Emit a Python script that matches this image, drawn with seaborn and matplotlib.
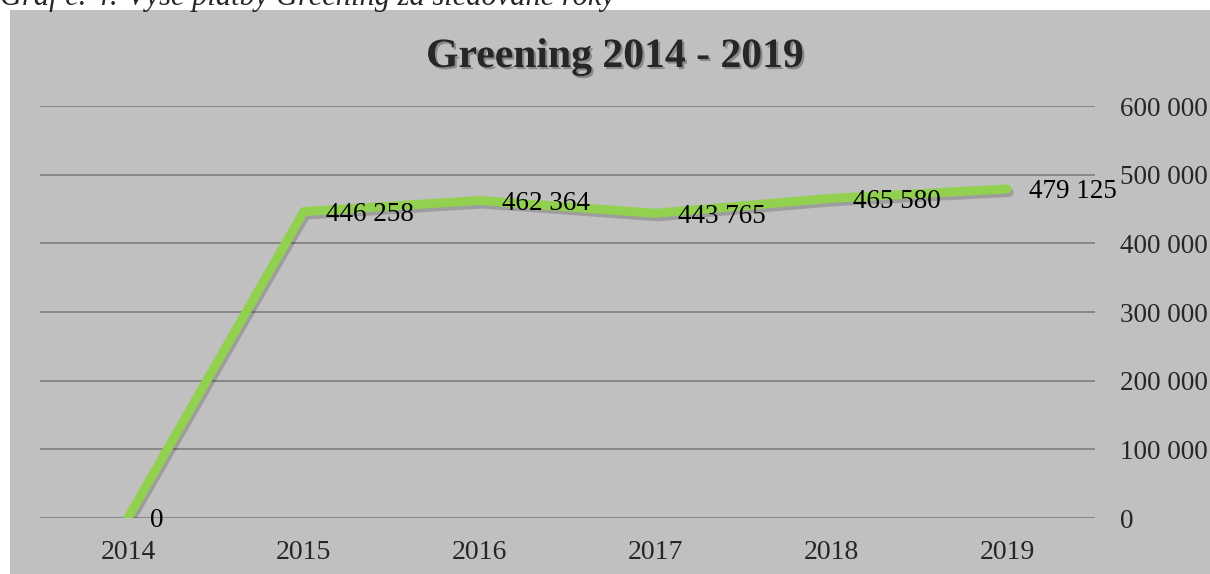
import numpy as np
import pandas as pd
import seaborn as sns
import matplotlib.pyplot as plt
import matplotlib.patheffects as pe
from matplotlib.patches import Rectangle
from matplotlib.ticker import FuncFormatter

years = ["2014", "2015", "2016", "2017", "2018", "2019"]
payments = [0, 446258, 462364, 443765, 465580, 479125]
y_ticks = [0, 100000, 200000, 300000, 400000, 500000, 600000]

df = pd.DataFrame({"year": years, "payment": payments})

sns.set_style("white")
plt.rcParams["font.family"] = ["Liberation Serif", "DejaVu Serif"]

fig = plt.figure(figsize=(12.1, 5.74), dpi=100)
fig.patch.set_facecolor("white")
# grey chart area (left and top white margin)
fig.patches.append(Rectangle((10 / 1210, 0), 1 - 10 / 1210, 564 / 574,
                             transform=fig.transFigure, facecolor="#C0C0C0",
                             edgecolor="none", zorder=-5))

ax = fig.add_axes([40 / 1210, 56 / 574, 1055 / 1210, 412 / 574])
ax.set_facecolor("none")
ax.set_zorder(2)

sns.lineplot(data=df, x="year", y="payment", ax=ax, color="#92D050",
             linewidth=6.5, solid_capstyle="round", solid_joinstyle="round",
             zorder=3,
             path_effects=[pe.SimpleLineShadow(offset=(1.5, -2.5), alpha=0.18),
                           pe.Normal()])

for i, v in enumerate(payments):
    ax.annotate(f"{v:,}".replace(",", " "), (i, v), xytext=(16, -2),
                textcoords="offset points", ha="left", va="center",
                fontsize=19.5, color="black", zorder=4)

ax.set_xlim(-0.5, 5.5)
ax.set_ylim(0, 600000)
ax.set_yticks(y_ticks)
ax.yaxis.set_major_formatter(FuncFormatter(lambda v, p: f"{int(v):,}".replace(",", " ")))
ax.yaxis.tick_right()
ax.tick_params(axis="y", length=0, pad=18, labelsize=19.5)
ax.tick_params(axis="x", length=0, pad=16, labelsize=20)
ax.grid(axis="y", color="#878787", linewidth=1.4)
ax.set_axisbelow(True)
for s in ax.spines.values():
    s.set_visible(False)
ax.set_xlabel("")
ax.set_ylabel("")

fig.text(0.508, (574 - 67) / 574, "Greening 2014 - 2019", ha="center",
         va="baseline", fontsize=30, fontweight="bold", zorder=5,
         path_effects=[pe.SimplePatchShadow(offset=(1.5, -1.5), alpha=0.3),
                       pe.Normal()])

fig.text(0.0, (574 - 5) / 574, "Graf č. 4: Výše platby Greening za sledované roky",
         ha="left", va="baseline", fontsize=22, style="italic", zorder=5)

fig.savefig("out.png", dpi=100, facecolor=fig.get_facecolor())
